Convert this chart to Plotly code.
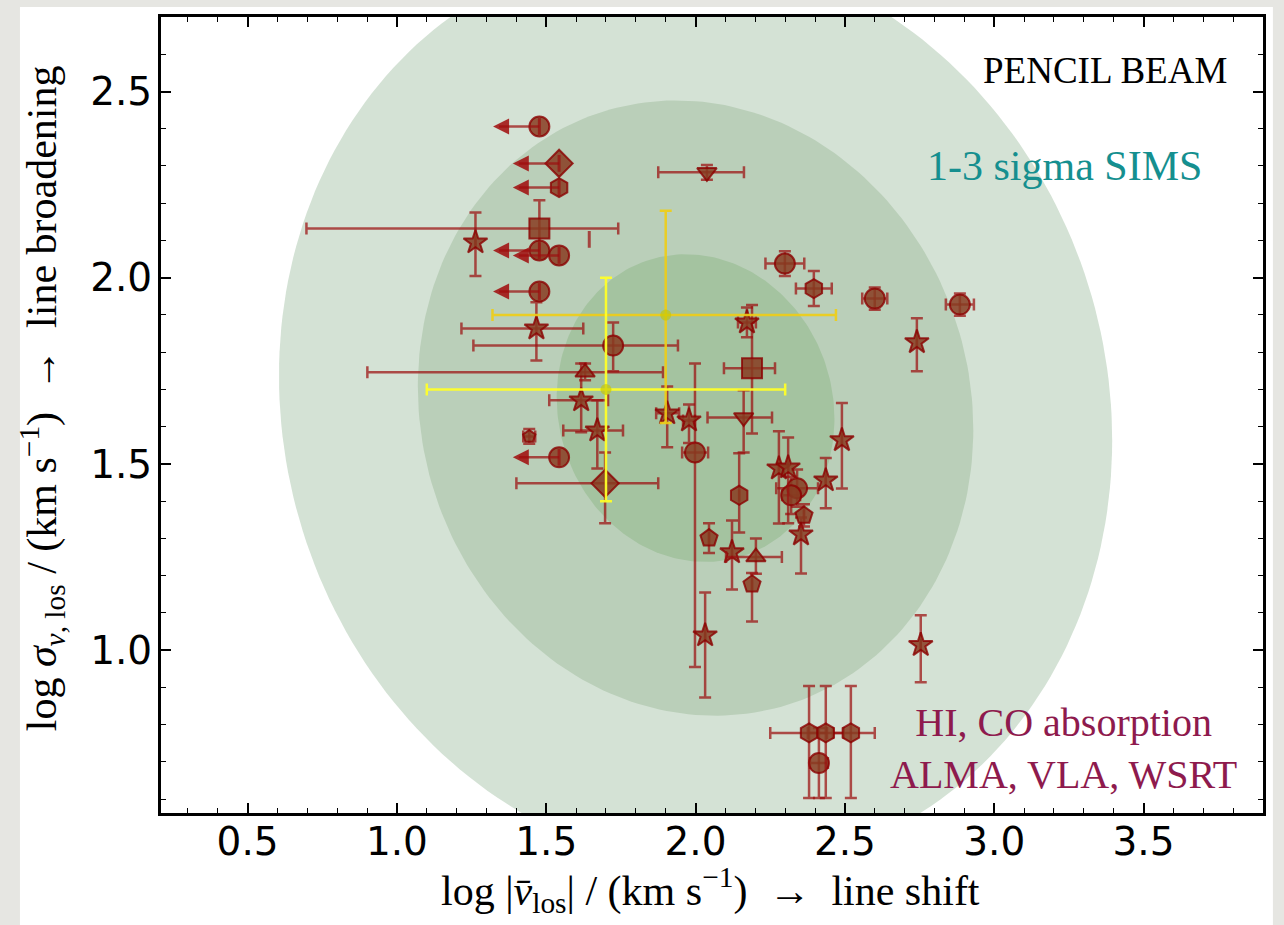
import numpy as np
import plotly.graph_objects as go

# ---------------- data ----------------
# measured points (with error bars)
pt_sym = ["square", "star", "star", "circle", "triangle-up", "star", "star", "pentagon-s",
          "diamond", "star", "star", "circle", "triangle-down", "square", "star", "circle",
          "hexagon", "circle", "circle", "star", "star", "star", "star", "star", "circle",
          "circle", "pentagon", "star", "hexagon", "pentagon", "star", "triangle-up",
          "pentagon", "star", "star", "hexagon", "hexagon", "hexagon", "circle", "triangle-down"]
pt_x = [1.477, 1.263, 1.467, 1.724, 1.630, 1.617, 1.671, 1.443,
        1.697, 1.905, 1.978, 1.998, 2.161, 2.189, 2.172, 2.299,
        2.396, 2.600, 2.885, 2.741, 2.490, 2.436, 2.279, 2.310, 2.340,
        2.320, 2.363, 2.353, 2.146, 2.045, 2.122, 2.202,
        2.189, 2.032, 2.754, 2.380, 2.436, 2.520, 2.413, 2.038]
pt_y = [2.132, 2.095, 1.864, 1.818, 1.746, 1.671, 1.590, 1.574,
        1.448, 1.636, 1.617, 1.531, 1.625, 1.757, 1.880, 2.038,
        1.971, 1.944, 1.928, 1.827, 1.564, 1.456, 1.488, 1.491, 1.435,
        1.416, 1.362, 1.311, 1.416, 1.301, 1.263, 1.250,
        1.177, 1.040, 1.014, 0.778, 0.778, 0.778, 0.697, 2.283]
pt_xm = [0.780, 0, 0.251, 0.468, 0.729, 0.107, 0.114, 0.020,
         0.297, 0.037, 0.020, 0.043, 0.121, 0.094, 0.030, 0.065,
         0.060, 0.042, 0.047, 0, 0, 0, 0, 0, 0.070,
         0.030, 0, 0, 0, 0, 0, 0.100,
         0, 0, 0, 0.130, 0.060, 0.060, 0.030, 0.163]
pt_xp = [0.264, 0, 0.157, 0.217, 0.261, 0.090, 0.086, 0.020,
         0.178, 0.040, 0.020, 0.044, 0.095, 0.077, 0.030, 0.065,
         0.060, 0.042, 0.047, 0, 0, 0, 0, 0, 0.070,
         0.030, 0, 0, 0, 0, 0, 0.087,
         0, 0, 0, 0.060, 0.060, 0.080, 0.030, 0.124]
pt_ym = [0.080, 0.090, 0.086, 0.069, 0.021, 0.086, 0.102, 0.020,
         0.107, 0.091, 0.061, 0.576, 0.094, 0.175, 0.040, 0.033,
         0.047, 0.030, 0.030, 0.078, 0.130, 0.075, 0.148, 0.150, 0.050,
         0.050, 0.030, 0.105, 0.100, 0.040, 0.100, 0.045,
         0.100, 0.167, 0.100, 0.175, 0.175, 0.175, 0.094, 0.020]
pt_yp = [0.076, 0.080, 0.070, 0.062, 0.024, 0.099, 0.081, 0.020,
         0.083, 0.072, 0.043, 0.239, 0.073, 0.170, 0.040, 0.033,
         0.047, 0.030, 0.030, 0.064, 0.100, 0.060, 0.100, 0.080, 0.050,
         0.050, 0.030, 0.045, 0.113, 0.040, 0.085, 0.050,
         0.030, 0.115, 0.080, 0.126, 0.126, 0.126, 0.094, 0.020]

# upper limits on line shift (arrows to the left)
ul_sym = ["circle", "diamond", "hexagon", "circle", "circle", "circle", "circle"]
ul_x = [1.477, 1.543, 1.543, 1.477, 1.543, 1.477, 1.543]
ul_y = [2.406, 2.307, 2.242, 2.073, 2.060, 1.963, 1.518]
ul_len = 0.155
stray_x = [1.644]
stray_y = [2.103]

# yellow reference points
yl_x = [1.9, 1.7]
yl_y = [1.9, 1.7]
yl_xm = [0.58, 0.60]
yl_xp = [0.57, 0.60]
yl_ym = [0.29, 0.30]
yl_yp = [0.28, 0.30]
yl_col = ["rgba(240,205,20,0.9)", "rgba(255,255,40,0.95)"]

# SIMS 1-3 sigma ellipses
ell_cx, ell_cy = 2.0, 1.65
ell_sx, ell_sy, ell_rho = 0.465, 0.413, -0.07
ell_levels = [3, 2, 1]
ell_colors = ["#d4e2d5", "#bacfb9", "#a4c3a0"]

# ---------------- figure ----------------
fig = go.Figure()

cov = np.array([[ell_sx**2, ell_rho*ell_sx*ell_sy], [ell_rho*ell_sx*ell_sy, ell_sy**2]])
L = np.linalg.cholesky(cov)
t = np.linspace(0, 2*np.pi, 241)
circ = np.vstack([np.cos(t), np.sin(t)])
for k, col in zip(ell_levels, ell_colors):
    p = L @ circ * k
    fig.add_trace(go.Scatter(x=ell_cx + p[0], y=ell_cy + p[1], mode="lines", fill="toself",
                             fillcolor=col, line=dict(width=0), hoverinfo="skip",
                             showlegend=False))

ERR_COL = "rgba(155,15,15,0.72)"
FILL = "rgba(135,60,33,0.85)"
EDGE = "rgba(139,0,0,0.8)"
styles = {"circle": ("circle", 20), "square": ("square", 20), "diamond": ("diamond", 21),
          "star": ("star", 18), "hexagon": ("hexagon", 19), "pentagon": ("pentagon", 18),
          "pentagon-s": ("pentagon", 13), "triangle-up": ("triangle-up", 17),
          "triangle-down": ("triangle-down", 17)}

def nz(v):
    return [a if a > 0 else None for a in v]

for key, (sym, sz) in styles.items():
    idx = [i for i, ss in enumerate(pt_sym) if ss == key]
    if not idx:
        continue
    fig.add_trace(go.Scatter(
        x=[pt_x[i] for i in idx], y=[pt_y[i] for i in idx], mode="markers",
        marker=dict(symbol=sym, size=sz, color=FILL, opacity=1, line=dict(color=EDGE, width=2)),
        error_x=dict(type="data", symmetric=False, array=nz([pt_xp[i] for i in idx]),
                     arrayminus=nz([pt_xm[i] for i in idx]), color=ERR_COL, thickness=2.5, width=6),
        error_y=dict(type="data", symmetric=False, array=nz([pt_yp[i] for i in idx]),
                     arrayminus=nz([pt_ym[i] for i in idx]), color=ERR_COL, thickness=2.5, width=6),
        showlegend=False, hoverinfo="skip"))

# upper limit markers
for key in ["circle", "diamond", "hexagon"]:
    idx = [i for i, ss in enumerate(ul_sym) if ss == key]
    sym, sz = styles[key]
    fig.add_trace(go.Scatter(
        x=[ul_x[i] for i in idx], y=[ul_y[i] for i in idx], mode="markers",
        marker=dict(symbol=sym, size=sz, color=FILL, line=dict(color=EDGE, width=2)),
        showlegend=False, hoverinfo="skip"))
# left arrows stems + caps
stem_x, stem_y = [], []
for x, y in zip(ul_x, ul_y):
    stem_x += [x, x - ul_len + 0.02, None]
    stem_y += [y, y, None]
fig.add_trace(go.Scatter(x=stem_x, y=stem_y, mode="lines",
                         line=dict(color=ERR_COL, width=2.5), showlegend=False, hoverinfo="skip"))
fig.add_trace(go.Scatter(x=ul_x + stray_x, y=ul_y + stray_y, mode="markers",
                         marker=dict(symbol="line-ns", size=12, line=dict(color=ERR_COL, width=3)),
                         showlegend=False, hoverinfo="skip"))
fig.add_trace(go.Scatter(x=[x - ul_len for x in ul_x], y=ul_y, mode="markers",
                         marker=dict(symbol="arrow-left", size=16, color="rgba(160,10,10,0.85)",
                                     line=dict(width=0)),
                         showlegend=False, hoverinfo="skip"))

# yellow points
for i in range(len(yl_x)):
    fig.add_trace(go.Scatter(
        x=[yl_x[i]], y=[yl_y[i]], mode="markers",
        marker=dict(symbol="circle", size=11, color="rgba(200,200,0,0.65)", line=dict(width=0)),
        error_x=dict(type="data", symmetric=False, array=[yl_xp[i]], arrayminus=[yl_xm[i]],
                     color=yl_col[i], thickness=2.5, width=6),
        error_y=dict(type="data", symmetric=False, array=[yl_yp[i]], arrayminus=[yl_ym[i]],
                     color=yl_col[i], thickness=2.5, width=6),
        showlegend=False, hoverinfo="skip"))

axis_common = dict(showline=True, linewidth=3, linecolor="black", mirror="allticks",
                   ticks="inside", ticklen=10, tickwidth=1.5, tickcolor="black",
                   showgrid=False, zeroline=False,
                   tickfont=dict(family="DejaVu Sans", size=39, color="black"),
                   minor=dict(ticks="inside", ticklen=5, tickwidth=1, dtick=0.1, tick0=0,
                              tickcolor="black", showgrid=False))

fig.update_xaxes(range=[0.21, 3.9], tickvals=[0.5, 1.0, 1.5, 2.0, 2.5, 3.0, 3.5],
                 ticktext=["0.5", "1.0", "1.5", "2.0", "2.5", "3.0", "3.5"],
                 ticklabelstandoff=-8, **axis_common)
fig.update_yaxes(range=[0.563, 2.7], tickvals=[1.0, 1.5, 2.0, 2.5],
                 ticktext=["1.0", "1.5", "2.0", "2.5"], ticklabelstandoff=-2, **axis_common)

serif = "Liberation Serif"
fig.update_layout(
    width=1284, height=925,
    margin=dict(l=161, r=21, t=17, b=112),
    paper_bgcolor="#e6e6e2", plot_bgcolor="white",
    shapes=[dict(type="rect", xref="paper", yref="paper", x0=-0.128, x1=1.009,
                 y0=-0.16, y1=1.0126, fillcolor="white", line=dict(width=0), layer="below")],
    annotations=[
        dict(text="PENCIL BEAM", x=3.785, y=2.556, xref="x", yref="y", xanchor="right",
             yanchor="middle", showarrow=False, font=dict(family=serif, size=37, color="black")),
        dict(text="1-3 sigma SIMS", x=3.235, y=2.30, xref="x", yref="y", xanchor="center",
             yanchor="middle", showarrow=False, font=dict(family=serif, size=42, color="#158f8f")),
        dict(text="HI, CO absorption<br>ALMA, VLA, WSRT", x=3.232, y=0.737, xref="x", yref="y",
             xanchor="center", yanchor="middle", showarrow=False,
             font=dict(family=serif, size=40, color="#8e1a4d")),
        dict(text="log |<i>v̄</i><sub>los</sub>| / (km s<sup>−1</sup>)  →  line shift",
             x=0.499, y=-0.097, xref="paper", yref="paper", xanchor="center", yanchor="middle",
             showarrow=False, font=dict(family=serif, size=42, color="black")),
        dict(text="log <i>σ</i><sub><i>v</i>, los</sub> / (km s<sup>−1</sup>)  →  line broadening",
             x=-0.108, y=0.521, xref="paper", yref="paper", xanchor="center", yanchor="middle",
             textangle=-90, showarrow=False, font=dict(family=serif, size=42, color="black")),
    ],
)

fig.write_html("out.html")
